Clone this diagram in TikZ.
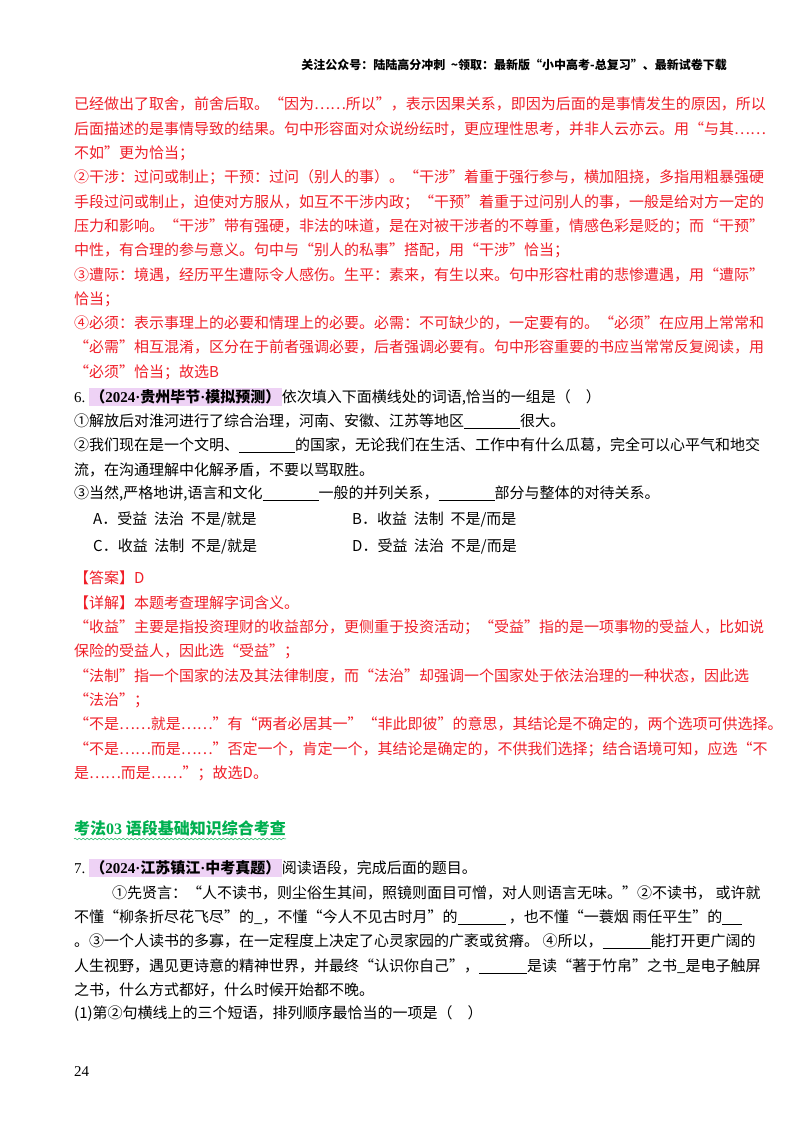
\documentclass[tikz,border=0pt]{standalone}
\usepackage{fontspec}
\setmainfont{Liberation Serif}
\newfontfamily\cjk{Noto Sans CJK SC}
\usetikzlibrary{decorations.pathmorphing}
\definecolor{ans}{RGB}{240,30,40}
\definecolor{sec}{RGB}{0,176,80}
\definecolor{hl}{RGB}{238,210,245}
\newcommand{\bl}[1]{\rule[-2pt]{#1pt}{0.7pt}}
\newcommand{\hlsrc}[1]{{\setlength\fboxsep{1.5pt}\colorbox{hl}{\bfseries #1}}}
\newcommand{\sdot}{{\rmfamily\bfseries ·}}
\tikzset{ln/.style={anchor=west,inner sep=0pt,font=\cjk\fontsize{15}{18}\selectfont},
 rd/.style={ln,text=ans},
 bk/.style={ln,text=black}}
\begin{document}
\begin{tikzpicture}[x=1pt,y=-1pt]
\useasboundingbox[fill=white] (0,0) rectangle (800,1132);
\node[anchor=east,inner sep=0pt,font=\cjk\fontsize{12}{14}\selectfont\bfseries] (hd) at (727,65) {关注公众号：陆陆高分冲刺\ \ \textasciitilde 领取：最新版“小中高考-总复习”、最新试卷下载};
\node[rd] (r1) at (74,104) {已经做出了取舍，前舍后取。“因为……所以”，表示因果关系，即因为后面的是事情发生的原因，所以};
\node[rd] (r2) at (74,129) {后面描述的是事情导致的结果。句中形容面对众说纷纭时，更应理性思考，并非人云亦云。用“与其……};
\node[rd] (r3) at (74,153) {不如”更为恰当；};
\node[rd] (r4) at (74,177) {②干涉：过问或制止；干预：过问（别人的事）。“干涉”着重于强行参与，横加阻挠，多指用粗暴强硬};
\node[rd] (r5) at (74,202) {手段过问或制止，迫使对方服从，如互不干涉内政；“干预”着重于过问别人的事，一般是给对方一定的};
\node[rd] (r6) at (74,226) {压力和影响。“干涉”带有强硬，非法的味道，是在对被干涉者的不尊重，情感色彩是贬的；而“干预”};
\node[rd] (r7) at (74,250) {中性，有合理的参与意义。句中与“别人的私事”搭配，用“干涉”恰当；};
\node[rd] (r8) at (74,275) {③遭际：境遇，经历平生遭际令人感伤。生平：素来，有生以来。句中形容杜甫的悲惨遭遇，用“遭际”};
\node[rd] (r9) at (74,299) {恰当；};
\node[rd] (r10) at (74,323) {④必须：表示事理上的必要和情理上的必要。必需：不可缺少的，一定要有的。“必须”在应用上常常和};
\node[rd] (r11) at (74,347) {“必需”相互混淆，区分在于前者强调必要，后者强调必要有。句中形容重要的书应当常常反复阅读，用};
\node[rd] (r12) at (74,372) {“必须”恰当；故选B};
% question 6
\node[bk] (q6) at (74,397) {{\rmfamily 6.}\ \hlsrc{（{\rmfamily 2024}\sdot 贵州毕节\sdot 模拟预测）}依次填入下面横线处的词语,恰当的一组是（\quad ）};
\node[bk] (s1) at (74,421) {①解放后对淮河进行了综合治理，河南、安徽、江苏等地区\bl{56}很大。};
\node[bk] (s2) at (74,445) {②我们现在是一个文明、\bl{56}的国家，无论我们在生活、工作中有什么瓜葛，完全可以心平气和地交};
\node[bk] (s3) at (74,470) {流，在沟通理解中化解矛盾，不要以骂取胜。};
\node[bk] (s4) at (74,494) {③当然,严格地讲,语言和文化\bl{56}一般的并列关系，\bl{56}部分与整体的对待关系。};
\node[bk] (oA) at (93,520) {A．受益\ \ 法治\ \ 不是/就是};
\node[bk] (oB) at (352,520) {B．收益\ \ 法制\ \ 不是/而是};
\node[bk] (oC) at (93,547) {C．收益\ \ 法制\ \ 不是/就是};
\node[bk] (oD) at (352,547) {D．受益\ \ 法治\ \ 不是/而是};
\node[rd] (a1) at (74,578) {【答案】D};
\node[rd] (a2) at (74,603) {【详解】本题考查理解字词含义。};
\node[rd] (a3) at (74,627) {“收益”主要是指投资理财的收益部分，更侧重于投资活动；“受益”指的是一项事物的受益人，比如说};
\node[rd] (a4) at (74,651) {保险的受益人，因此选“受益”；};
\node[rd] (a5) at (74,676) {“法制”指一个国家的法及其法律制度，而“法治”却强调一个国家处于依法治理的一种状态，因此选};
\node[rd] (a6) at (74,700) {“法治”；};
\node[rd] (a7) at (74,724) {“不是……就是……”有“两者必居其一”“非此即彼”的意思，其结论是不确定的，两个选项可供选择。};
\node[rd] (a8) at (74,749) {“不是……而是……”否定一个，肯定一个，其结论是确定的，不供我们选择；结合语境可知，应选“不};
\node[rd] (a9) at (74,773) {是……而是……”；故选D。};
% section heading
\node[anchor=west,inner sep=0pt,text=sec,font=\cjk\fontsize{16}{18}\selectfont\bfseries] (sh) at (74,828) {考法{\rmfamily 03}\ 语段基础知识综合考查};
\draw[sec,line width=0.5pt,decorate,decoration={snake,amplitude=0.8pt,segment length=4pt}] ([yshift=-3pt]sh.south west) -- ([yshift=-3pt]sh.south east);
% question 7
\node[bk] (q7) at (74,868) {{\rmfamily 7.}\ \hlsrc{（{\rmfamily 2024}\sdot 江苏镇江\sdot 中考真题）}阅读语段，完成后面的题目。};
\node[bk] (p1) at (112,893) {①先贤言：“人不读书，则尘俗生其间，照镜则面目可憎，对人则语言无味。”②不读书，\ 或许就};
\node[bk] (p2) at (74,917) {不懂“柳条折尽花飞尽”的\_，不懂“今人不见古时月”的\bl{48}\ ，也不懂“一蓑烟\ 雨任平生”的\bl{20}};
\node[bk] (p3) at (74,941) {。③一个人读书的多寡，在一定程度上决定了心灵家园的广袤或贫瘠。\ ④所以，\bl{48}能打开更广阔的};
\node[bk] (p4) at (74,966) {人生视野，遇见更诗意的精神世界，并最终“认识你自己”，\bl{48}是读“著于竹帛”之书\_是电子触屏};
\node[bk] (p5) at (74,990) {之书，什么方式都好，什么时候开始都不晚。};
\node[bk] (q71) at (74,1014) {(1)第②句横线上的三个短语，排列顺序最恰当的一项是（\quad ）};
\node[anchor=west,inner sep=0pt,font=\fontsize{15}{18}\selectfont] (pg) at (74,1072) {24};
\end{tikzpicture}
\end{document}
